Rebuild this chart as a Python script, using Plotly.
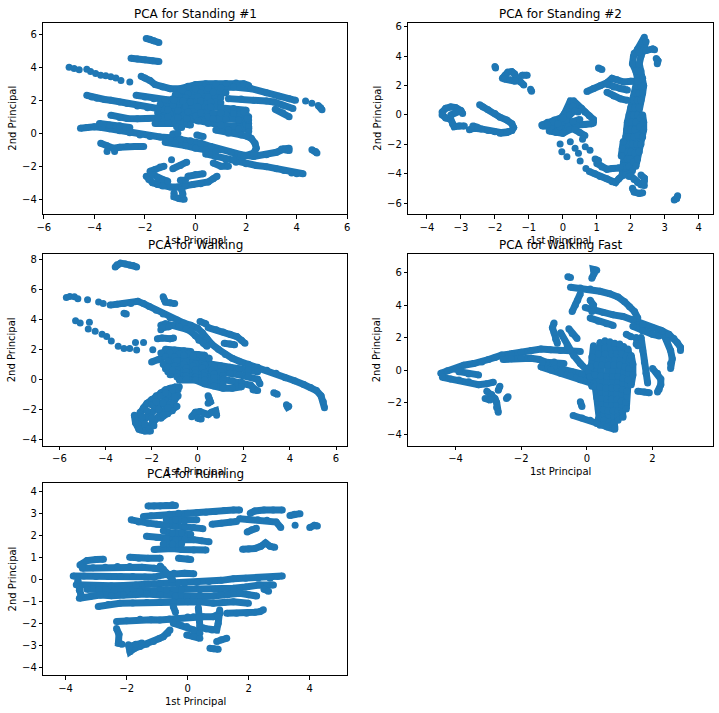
import plotly.graph_objects as go

# PCA scatter of 5 activities; each trail below is a run of consecutive samples
# (1st principal, 2nd principal). Single-point trails are isolated samples.

standing_1 = [
    [(-1.95, 5.75), (-1.8, 5.7), (-1.65, 5.6), (-1.45, 5.5)],
    [(-2.55, 4.55), (-2.3, 4.5), (-2.0, 4.45), (-1.7, 4.4), (-1.45, 4.35)],
    [(-5.0, 4.0)], [(-4.8, 3.92)], [(-4.6, 3.85)], [(-4.3, 3.88)], [(-4.15, 3.75)],
    [(-3.95, 3.62)], [(-3.75, 3.52)], [(-3.55, 3.48)], [(-3.35, 3.42)], [(-3.15, 3.35)],
    [(-2.95, 3.2)], [(-2.6, 3.1)],
    [(-2.15, 3.45), (-2.0, 3.35), (-1.8, 3.2), (-1.6, 2.95), (-1.3, 2.8), (-1.0, 2.7), (-0.6, 2.7),
     (-0.3, 2.85), (0.0, 2.95), (0.4, 3.0), (0.8, 3.0), (1.2, 3.02), (1.6, 3.05), (1.9, 3.0), (2.1, 2.9)],
    [(-0.5, 2.6), (0.0, 2.7), (0.5, 2.75), (1.0, 2.75), (1.5, 2.8), (2.2, 2.7), (2.8, 2.45), (3.3, 2.25),
     (3.7, 2.1), (3.95, 2.0)],
    [(-0.8, 2.35), (-0.3, 2.4), (0.2, 2.45), (0.7, 2.5), (1.2, 2.45)],
    [(-0.9, 2.1), (-0.4, 2.15), (0.1, 2.2), (0.5, 2.2), (1.0, 2.15)],
    [(-0.3, 1.9), (0.2, 1.95), (0.6, 1.9), (1.0, 1.85)],
    [(-1.4, 1.75), (-0.9, 1.7), (-0.4, 1.65), (0.1, 1.6), (0.5, 1.55)],
    [(-1.5, 1.25), (-1.0, 1.2), (-0.5, 1.1), (0.0, 1.05), (0.5, 1.0)],
    [(-1.6, 0.6), (-1.1, 0.65), (-0.6, 0.6), (-0.2, 0.5)],
    [(1.3, 2.1), (1.8, 2.08), (2.3, 2.0), (2.8, 1.95), (3.1, 1.9), (3.45, 1.7), (3.85, 1.5)],
    [(3.15, 1.45), (3.45, 1.25), (3.7, 1.0)],
    [(4.35, 1.95)], [(4.6, 1.82)], [(4.85, 1.68), (4.95, 1.55), (5.0, 1.42)],
    [(-4.3, 2.3), (-4.1, 2.2), (-3.9, 2.12), (-3.6, 2.05), (-3.35, 2.0), (-3.0, 1.9), (-2.7, 1.8),
     (-2.3, 1.65), (-1.9, 1.55), (-1.5, 1.5), (-1.1, 1.42), (-0.7, 1.38), (-0.3, 1.3), (0.2, 1.25),
     (0.7, 1.2), (1.2, 1.15), (1.7, 1.1), (2.1, 1.0)],
    [(-2.35, 2.3), (-2.0, 2.2), (-1.65, 2.1), (-1.2, 2.05), (-0.85, 2.0), (-0.5, 1.95), (-0.2, 1.9)],
    [(-3.35, 1.1), (-3.0, 0.95), (-2.7, 0.9), (-2.3, 0.88), (-1.9, 0.9), (-1.5, 0.95), (-1.1, 1.0),
     (-0.7, 0.95), (-0.35, 0.9), (0.1, 0.75), (0.5, 0.6), (1.0, 0.5), (1.5, 0.42), (2.0, 0.55), (2.1, 0.6)],
    [(0.6, 1.6), (1.0, 1.55), (1.5, 1.5), (2.0, 1.4)],
    [(1.0, 1.25), (1.5, 1.2), (2.0, 1.15)],
    [(0.7, 0.9), (1.2, 0.85), (1.7, 0.8), (2.1, 0.8)],
    [(1.3, 0.2), (1.7, 0.25), (2.1, 0.3)],
    [(0.8, 0.2), (1.3, 0.0), (1.8, -0.1), (2.1, -0.2)],
    [(1.9, 1.3), (2.05, 0.9), (2.1, 0.4), (2.1, 0.1)],
    [(-4.55, 0.3), (-4.3, 0.35), (-4.0, 0.4), (-3.7, 0.35), (-3.4, 0.28), (-3.0, 0.15), (-2.6, 0.03),
     (-2.2, -0.1), (-1.8, -0.2), (-1.4, -0.22), (-1.0, -0.27), (-0.6, -0.35), (-0.2, -0.45), (0.2, -0.6),
     (0.6, -0.8), (1.0, -1.0), (1.4, -1.15), (1.8, -1.3), (2.3, -1.4), (2.8, -1.3), (3.2, -1.15),
     (3.5, -0.95), (3.7, -0.9)],
    [(-3.8, 0.6), (-3.4, 0.5), (-3.0, 0.45), (-2.6, 0.35)],
    [(-3.75, -0.6), (-3.5, -0.75), (-3.25, -0.9), (-3.0, -0.85), (-2.7, -0.8), (-2.4, -0.8), (-2.05, -0.8)],
    [(-3.5, -1.1)], [(-3.2, -1.1)],
    [(-0.75, 0.4), (-0.55, 0.35)], [(-0.9, -0.05), (-0.7, 0.0)], [(0.05, -0.1), (0.3, -0.2)],
    [(-1.2, -0.55), (-0.8, -0.6), (-0.4, -0.75), (0.0, -0.9), (0.4, -1.0), (0.8, -1.1)],
    [(0.4, -1.25), (0.8, -1.4), (1.2, -1.6), (1.6, -1.75), (2.0, -1.85), (2.4, -1.95), (2.8, -2.02),
     (3.2, -2.15), (3.5, -2.25), (3.8, -2.4), (4.0, -2.45), (4.25, -2.45)],
    [(1.5, -1.6), (1.9, -1.4), (2.3, -1.2), (2.4, -0.9), (2.35, -0.6), (2.2, -0.3), (2.0, -0.15)],
    [(3.4, -0.95), (3.55, -1.0), (3.7, -1.05)],
    [(0.7, -1.8), (1.0, -2.0), (1.3, -2.0)],
    [(4.6, -1.0), (4.75, -1.1), (4.8, -1.2)],
    [(-1.95, -2.6), (-1.85, -2.8), (-1.7, -3.0), (-1.5, -3.1), (-1.3, -3.2), (-1.0, -3.25), (-0.7, -3.25),
     (-0.4, -3.2), (-0.1, -3.1), (0.2, -3.05), (0.5, -2.95), (0.7, -2.75), (0.85, -2.6)],
    [(-1.8, -2.3), (-1.6, -2.2), (-1.4, -2.05), (-1.25, -2.0)],
    [(-1.7, -2.5), (-1.5, -2.7), (-1.3, -2.8), (-1.1, -2.9)],
    [(-0.9, -2.15), (-0.6, -1.95), (-0.35, -1.75)],
    [(-0.85, -3.6), (-0.85, -3.85), (-0.65, -3.95), (-0.45, -4.0)],
    [(-0.55, -3.4), (-0.5, -3.7)],
    [(-0.6, -2.85), (-0.4, -2.85)],
    [(-0.95, -1.6)],
    [(-0.3, -2.6), (0.0, -2.5), (0.3, -2.45)],
]

standing_2 = [
    [(-2.0, 3.3), (-1.98, 3.2)],
    [(-1.78, 2.5), (-1.7, 2.7), (-1.62, 2.92), (-1.5, 2.95), (-1.42, 2.8), (-1.35, 2.5), (-1.25, 2.25),
     (-1.15, 2.05)],
    [(-1.72, 2.45), (-1.55, 2.4), (-1.4, 2.3)],
    [(-1.2, 2.7), (-1.05, 2.7)],
    [(-0.95, 1.75), (-0.92, 1.62)],
    [(-2.95, 0.1), (-3.0, 0.3), (-3.15, 0.5), (-3.3, 0.55), (-3.45, 0.45), (-3.55, 0.2), (-3.55, 0.0),
     (-3.45, -0.2), (-3.3, -0.3), (-3.25, -0.6), (-3.2, -0.8), (-3.05, -0.75), (-2.9, -0.75)],
    [(-3.3, 0.0), (-3.15, 0.2), (-3.05, 0.25)],
    [(-2.75, -1.0), (-2.6, -0.9), (-2.4, -0.95), (-2.2, -1.05), (-2.0, -1.15), (-1.8, -1.2), (-1.6, -1.15)],
    [(-2.45, 0.7), (-2.35, 0.55), (-2.2, 0.35), (-2.0, 0.1), (-1.85, -0.15), (-1.65, -0.35), (-1.5, -0.6),
     (-1.45, -0.85), (-1.5, -1.05), (-1.65, -1.2), (-1.85, -1.25)],
    [(-2.65, -0.75), (-2.5, -0.85)],
    [(-0.62, -0.68), (-0.45, -0.5), (-0.25, -0.35), (-0.05, -0.2), (0.05, 0.1), (0.15, 0.5), (0.22, 0.95),
     (0.32, 0.95), (0.42, 0.7), (0.55, 0.45), (0.65, 0.2), (0.78, -0.05), (0.9, -0.3), (0.9, -0.55)],
    [(-0.6, -0.75), (-0.35, -0.8), (-0.1, -0.8), (0.15, -0.75), (0.4, -0.7), (0.65, -0.65), (0.85, -0.6)],
    [(-0.4, -1.1), (-0.2, -1.2), (0.0, -1.25), (0.2, -1.0)],
    [(-0.3, -0.5), (0.0, -0.5), (0.3, -0.45), (0.5, -0.3)],
    [(-0.45, -0.65), (-0.15, -0.6), (0.1, -0.35), (0.2, 0.2), (0.3, 0.6)],
    [(0.0, -0.2), (0.2, 0.0), (0.35, 0.3), (0.45, 0.2)],
    [(0.35, -1.0), (0.5, -1.2), (0.65, -1.4)],
    [(-0.08, -1.98)], [(-0.03, -2.5)], [(0.12, -2.84)], [(0.22, -1.82)], [(0.36, -2.27)],
    [(0.46, -2.61)], [(0.51, -3.14)], [(0.66, -2.16)], [(0.58, -1.66)], [(0.68, -3.64)], [(0.8, -2.4)],
    [(0.78, -3.85), (0.95, -4.0), (1.1, -4.2), (1.3, -4.35), (1.45, -4.55), (1.55, -4.6), (1.65, -4.35),
     (1.75, -4.15), (1.85, -3.9), (1.95, -3.7)],
    [(1.0, -3.3), (1.15, -3.55), (1.3, -3.7), (1.45, -3.65), (1.65, -3.6), (1.85, -3.6)],
    [(0.95, -3.0), (1.05, -3.1)],
    [(1.75, -4.05), (1.78, -3.5), (1.82, -3.0), (1.82, -2.5), (1.85, -2.0), (1.85, -1.5), (1.88, -1.0),
     (1.9, -0.5), (1.95, 0.0), (2.0, 0.5), (2.08, 1.0), (2.15, 1.5), (2.2, 2.0), (2.2, 2.5), (2.15, 3.0),
     (2.05, 3.5), (2.08, 4.0), (2.2, 4.5), (2.35, 5.0), (2.4, 5.3)],
    [(1.85, -4.1), (1.88, -3.5), (1.9, -3.0), (1.92, -2.5), (1.95, -2.0), (1.98, -1.5), (2.0, -1.0),
     (2.03, -0.5), (2.08, 0.0), (2.12, 0.5), (2.2, 1.0), (2.25, 1.5), (2.3, 2.0)],
    [(1.95, -4.2), (1.95, -3.5), (1.98, -3.0), (2.0, -2.5), (2.05, -2.0), (2.1, -1.5), (2.12, -1.0),
     (2.15, -0.5), (2.2, 0.0), (2.25, 0.5), (2.3, 1.0), (2.35, 1.5), (2.38, 2.0), (2.35, 2.5), (2.3, 3.0),
     (2.25, 3.5), (2.3, 4.0), (2.4, 4.5), (2.45, 5.0)],
    [(2.05, -3.8), (2.08, -3.2), (2.12, -2.6), (2.18, -2.0), (2.22, -1.4), (2.26, -0.8), (2.28, -0.2)],
    [(2.15, -3.5), (2.2, -3.0), (2.25, -2.5), (2.3, -2.0), (2.35, -1.5), (2.38, -1.0), (2.38, -0.5),
     (2.35, 0.0)],
    [(1.72, -2.8), (1.75, -2.3), (1.78, -1.8)],
    [(2.1, 4.2), (2.25, 4.3), (2.45, 4.4), (2.65, 4.5), (2.7, 4.45)],
    [(2.75, 3.85), (2.8, 3.7), (2.78, 3.5)],
    [(0.71, 1.6), (0.9, 1.8), (1.1, 2.0), (1.3, 2.2), (1.45, 2.5), (1.6, 2.4), (1.8, 2.25), (2.0, 2.3),
     (2.2, 2.3)],
    [(1.3, 1.55), (1.5, 1.3), (1.7, 1.1), (1.9, 1.0)],
    [(1.05, 3.2), (1.15, 3.1)],
    [(1.3, 2.1), (1.5, 1.9), (1.7, 1.8), (1.9, 1.7)],
    [(2.0, -4.15), (2.1, -4.4), (2.2, -4.6), (2.3, -4.75), (2.4, -4.8)],
    [(2.3, -4.1), (2.4, -4.3), (2.4, -4.55)],
    [(2.05, -5.0), (2.1, -5.25), (2.25, -5.35), (2.35, -5.3)],
    [(3.28, -5.8), (3.35, -5.7), (3.38, -5.5)],
]

walking = [
    [(-3.58, 7.5), (-3.5, 7.65), (-3.35, 7.75), (-3.15, 7.7), (-2.95, 7.62), (-2.8, 7.6), (-2.65, 7.5)],
    [(-5.7, 5.45)], [(-5.55, 5.52)], [(-5.35, 5.5)], [(-5.2, 5.38)], [(-4.78, 5.3)], [(-4.3, 5.15)],
    [(-4.1, 5.05)],
    [(-3.8, 4.95), (-3.5, 5.0), (-3.2, 5.05), (-2.9, 5.05), (-2.6, 5.2), (-2.35, 5.05), (-2.1, 4.85),
     (-1.8, 4.6), (-1.5, 4.35), (-1.2, 4.1), (-0.9, 3.95), (-0.6, 3.75), (-0.3, 3.6), (0.0, 3.4), (0.2, 3.1),
     (0.4, 2.7), (0.6, 2.35), (0.9, 2.0), (1.2, 1.65), (1.5, 1.4), (1.8, 1.2), (2.2, 1.0), (2.6, 0.8),
     (3.0, 0.6), (3.4, 0.4), (3.8, 0.1), (4.2, -0.1), (4.6, -0.35), (4.9, -0.55), (5.15, -0.75),
     (5.35, -1.1), (5.45, -1.5), (5.5, -1.9)],
    [(-3.2, 4.4), (-3.1, 4.35)],
    [(-1.5, 5.5), (-1.45, 5.3), (-1.4, 5.15), (-1.2, 5.1), (-1.0, 5.05)],
    [(-1.6, 3.6), (-1.4, 3.7), (-1.1, 3.6), (-0.8, 3.5), (-0.5, 3.35), (-0.3, 3.2), (-0.1, 2.9), (0.05, 2.6),
     (0.25, 2.4), (0.4, 2.2)],
    [(-1.6, 3.3), (-1.5, 3.45), (-1.25, 3.5)],
    [(-1.75, 2.7), (-1.55, 2.75), (-1.2, 2.7), (-1.05, 2.75)],
    [(0.45, 3.45), (0.8, 3.3), (1.1, 3.15), (1.4, 3.0), (1.7, 2.85), (1.9, 2.6), (2.05, 2.4)],
    [(1.15, 2.4), (1.4, 2.35), (1.6, 2.3)],
    [(0.1, 3.85), (0.35, 3.7)],
    [(-5.3, 3.9)], [(-5.1, 3.75)], [(-4.7, 3.8)], [(-4.75, 3.35)], [(-4.45, 3.2)], [(-4.15, 3.0)],
    [(-3.95, 2.85)], [(-3.75, 2.55)], [(-3.45, 2.2)], [(-3.2, 2.05)], [(-2.95, 2.05)], [(-2.7, 2.45)],
    [(-2.65, 1.95)], [(-2.35, 2.45)], [(-1.95, 1.98)],
    [(-1.4, 2.0), (-1.0, 1.95), (-0.6, 1.9), (-0.3, 1.85)],
    [(-1.6, 1.75), (-1.2, 1.75), (-0.8, 1.7), (-0.4, 1.7), (0.0, 1.65), (0.3, 1.6)],
    [(-2.0, 1.15), (-1.7, 1.3), (-1.4, 1.5), (-1.0, 1.5), (-0.6, 1.35), (-0.2, 1.2), (0.2, 1.15),
     (0.6, 1.0), (1.0, 0.9), (1.4, 0.8), (1.8, 0.7), (2.2, 0.6), (2.6, 0.5)],
    [(-1.3, 1.2), (-0.9, 1.25), (-0.5, 1.2), (-0.1, 1.05), (0.3, 0.95), (0.7, 0.8), (1.1, 0.7)],
    [(-1.4, 0.7), (-1.0, 0.9), (-0.6, 1.0), (-0.2, 0.9), (0.2, 0.75), (0.6, 0.6), (1.0, 0.5), (1.4, 0.4),
     (1.8, 0.3), (2.2, 0.2), (2.6, 0.0), (2.7, -0.3)],
    [(-1.3, 0.5), (-0.9, 0.65), (-0.5, 0.75), (-0.1, 0.65), (0.3, 0.45), (0.7, 0.35), (1.1, 0.25)],
    [(-1.2, 0.3), (-0.9, 0.4), (-0.5, 0.5), (-0.1, 0.4), (0.3, 0.2), (0.7, 0.1), (1.1, 0.0), (1.5, -0.1),
     (1.9, -0.2), (2.3, -0.4), (2.5, -0.7)],
    [(-0.9, 0.15), (-0.5, 0.25), (-0.1, 0.15), (0.3, -0.05), (0.7, -0.2), (1.1, -0.3)],
    [(-0.8, -0.05), (-0.5, 0.0), (-0.1, -0.05), (0.3, -0.3), (0.7, -0.45), (1.1, -0.6), (1.5, -0.6),
     (1.9, -0.5)],
    [(-0.6, 1.6), (-0.2, 1.55), (0.2, 1.5), (0.5, 1.4)],
    [(-1.5, 1.0), (-1.3, 0.8), (-1.1, 0.6)],
    [(3.3, -0.9), (3.45, -1.0)],
    [(3.85, -1.7), (3.9, -1.85), (3.95, -1.8)],
    [(2.4, -0.7), (2.6, -0.75)],
    [(-2.6, -2.5), (-2.5, -2.2), (-2.35, -1.9), (-2.2, -1.6), (-2.0, -1.35), (-1.8, -1.1), (-1.6, -0.9),
     (-1.4, -0.7), (-1.2, -0.6), (-0.95, -0.5)],
    [(-2.6, -3.1), (-2.4, -2.8), (-2.2, -2.5), (-2.0, -2.2), (-1.8, -1.9), (-1.6, -1.6), (-1.4, -1.3),
     (-1.2, -1.1), (-1.0, -0.9), (-0.85, -0.7)],
    [(-2.45, -3.4), (-2.2, -3.35), (-2.0, -3.0), (-1.8, -2.6), (-1.6, -2.3), (-1.4, -2.0), (-1.2, -1.7),
     (-1.0, -1.4), (-0.85, -1.1)],
    [(-2.7, -2.7), (-2.6, -3.0), (-2.5, -3.3), (-2.3, -3.45), (-2.05, -3.45)],
    [(-1.6, -2.6), (-1.3, -2.3), (-1.1, -2.1), (-0.9, -1.8)],
    [(-2.75, -2.4), (-2.7, -2.9), (-2.55, -3.35)],
    [(-2.4, -2.5), (-2.3, -3.0), (-2.1, -3.3)],
    [(-2.2, -2.1), (-2.0, -2.6), (-1.9, -3.1)],
    [(-2.0, -1.7), (-1.7, -2.0), (-1.5, -2.4)],
    [(-1.8, -1.5), (-1.5, -1.6), (-1.3, -1.9)],
    [(-1.6, -1.1), (-1.3, -1.0), (-1.0, -1.2)],
    [(-1.4, -0.9), (-1.1, -0.7), (-0.8, -0.5)],
    [(-0.26, -2.5), (-0.1, -2.2), (0.1, -2.15), (0.3, -2.3), (0.45, -2.35), (0.6, -2.2), (0.78, -2.1),
     (0.82, -2.4)],
    [(0.0, -2.6), (0.15, -2.65)],
    [(0.45, -1.1), (0.5, -1.3), (0.55, -1.5), (0.45, -1.6)],
]

walking_fast = [
    [(0.15, 5.65), (0.22, 5.95), (0.2, 6.2), (0.3, 6.15)],
    [(-0.58, 5.75), (-0.5, 5.7)],
    [(-0.5, 5.1), (-0.2, 5.05), (0.1, 5.0), (0.4, 4.85), (0.7, 4.7), (0.95, 4.5), (1.15, 4.2), (1.3, 3.9),
     (1.45, 3.6), (1.55, 3.2)],
    [(-0.2, 4.7), (-0.28, 4.3), (-0.35, 4.0), (-0.45, 3.6)],
    [(-0.05, 3.85), (0.2, 3.7), (0.5, 3.55), (0.8, 3.4), (1.1, 3.3), (1.4, 3.1), (1.7, 2.8), (2.0, 2.6),
     (2.25, 2.45), (2.5, 2.2), (2.65, 1.95), (2.75, 1.7), (2.85, 1.4), (2.85, 1.2)],
    [(0.1, 3.2), (0.35, 3.0), (0.6, 2.85), (0.8, 2.75)],
    [(0.1, 4.3), (0.2, 4.0), (0.15, 3.6)],
    [(1.4, 2.7), (1.7, 2.4), (2.0, 2.2), (2.2, 2.1)],
    [(1.5, 2.0), (1.5, 1.6), (1.55, 1.5)],
    [(-1.0, 2.9), (-1.05, 2.6), (-1.0, 2.3), (-0.95, 1.9), (-0.9, 1.65)],
    [(-0.55, 2.55), (-0.45, 2.25), (-0.3, 1.95)],
    [(-4.45, -0.2), (-4.25, -0.05), (-4.0, 0.05), (-3.75, 0.3), (-3.45, 0.4), (-3.2, 0.5), (-3.0, 0.65),
     (-2.8, 0.78), (-2.6, 0.92), (-2.3, 1.0), (-2.0, 1.1), (-1.7, 1.2), (-1.4, 1.3), (-1.1, 1.25),
     (-0.8, 1.2), (-0.5, 1.2), (-0.2, 1.15)],
    [(-2.55, 0.65), (-2.3, 0.7), (-2.0, 0.72), (-1.7, 0.72), (-1.45, 0.65), (-1.25, 0.45), (-1.0, 0.2),
     (-0.75, 0.05), (-0.45, -0.1), (-0.15, -0.25), (0.2, -0.4)],
    [(-4.4, -0.45), (-4.15, -0.55), (-3.9, -0.62), (-3.6, -0.72), (-3.3, -0.9), (-3.05, -0.85),
     (-2.85, -0.75)],
    [(-3.9, -0.1), (-3.6, -0.25), (-3.3, -0.3)],
    [(-2.65, -1.0), (-2.7, -1.25)],
    [(-3.05, -1.3), (-2.9, -1.5), (-2.8, -1.75), (-2.75, -2.0), (-2.75, -2.3), (-2.7, -2.6)],
    [(-3.1, -1.75), (-2.95, -1.85)],
    [(-2.4, -1.65), (-2.45, -1.75)],
    [(-1.4, 0.2), (-1.1, 0.0), (-0.8, -0.2), (-0.5, -0.35), (-0.2, -0.6), (0.2, -0.85)],
    [(-1.35, 0.5), (-1.0, 0.5), (-0.7, 0.4)],
    [(-0.8, 2.3), (-0.6, 1.5), (-0.4, 0.9), (-0.2, 0.4), (0.05, -0.1)],
    [(0.2, 1.5), (0.15, 0.8), (0.1, 0.2), (0.1, -0.4), (0.15, -1.0)],
    [(0.4, 1.7), (0.35, 1.0), (0.3, 0.3), (0.25, -0.3), (0.25, -1.0), (0.3, -1.7), (0.35, -2.4),
     (0.35, -3.0), (0.4, -3.4)],
    [(0.55, 1.8), (0.55, 1.0), (0.45, 0.3), (0.42, -0.35), (0.4, -1.05), (0.45, -1.75), (0.5, -2.45),
     (0.52, -3.1), (0.55, -3.45)],
    [(0.7, 1.75), (0.75, 1.0), (0.65, 0.3), (0.6, -0.4), (0.58, -1.1), (0.6, -1.8), (0.65, -2.5),
     (0.68, -3.2), (0.7, -3.45)],
    [(0.85, 1.65), (0.9, 1.0), (0.82, 0.3), (0.78, -0.4), (0.75, -1.1), (0.75, -1.8), (0.8, -2.5),
     (0.82, -3.25), (0.85, -3.55)],
    [(1.0, 1.6), (1.05, 1.0), (1.0, 0.3), (0.95, -0.4), (0.92, -1.1), (0.92, -1.8), (0.95, -2.5),
     (0.95, -3.1)],
    [(1.12, 1.45), (1.2, 0.85), (1.15, 0.2), (1.1, -0.5), (1.08, -1.2), (1.05, -1.9), (1.08, -2.55),
     (1.1, -2.9)],
    [(1.25, 1.3), (1.3, 0.7), (1.28, 0.1), (1.25, -0.6), (1.22, -1.3), (1.18, -2.0), (1.2, -2.4)],
    [(1.35, 0.9), (1.4, 0.35), (1.4, -0.3), (1.35, -0.9)],
    [(1.65, 2.0), (1.7, 1.2), (1.75, 0.5), (1.8, -0.2), (1.85, -0.8)],
    [(-0.42, -2.8), (-0.15, -2.95), (0.1, -3.1), (0.3, -3.3), (0.5, -3.4)],
    [(-0.2, -1.95), (-0.15, -2.25)],
    [(0.6, -3.5), (0.85, -3.65)],
    [(2.0, 0.1), (2.15, -0.2), (2.25, -0.55), (2.25, -0.9), (2.2, -1.2), (2.15, -1.35)],
    [(2.3, 2.4), (2.45, 1.8), (2.55, 1.2), (2.6, 0.7), (2.55, 0.4), (2.55, 0.1)],
    [(1.55, -1.3), (1.75, -1.35), (1.9, -1.4)],
    [(1.2, 2.2), (1.35, 2.05)],
]

running = [
    [(-1.3, 3.33), (-1.1, 3.33), (-0.9, 3.33), (-0.7, 3.35), (-0.5, 3.38), (-0.4, 3.35)],
    [(-1.45, 2.85), (-1.2, 2.88), (-0.9, 2.9), (-0.6, 2.95), (-0.3, 3.0), (0.0, 3.0), (0.3, 3.02),
     (0.6, 3.05), (0.9, 3.08), (1.2, 3.12), (1.5, 3.15), (1.7, 3.15)],
    [(2.05, 3.0), (2.2, 3.1), (2.5, 3.15), (2.8, 3.15), (3.1, 3.15)],
    [(1.7, 2.75), (2.0, 2.72), (2.3, 2.7), (2.6, 2.68), (2.9, 2.6), (3.05, 2.35)],
    [(3.35, 2.9), (3.5, 2.95), (3.68, 2.98)],
    [(3.52, 2.45)],
    [(4.0, 2.35), (4.15, 2.45), (4.25, 2.42)],
    [(0.8, 2.5), (1.1, 2.55), (1.4, 2.6), (1.6, 2.62)],
    [(1.95, 2.15), (2.1, 2.25), (2.25, 2.32)],
    [(1.8, 1.36), (2.0, 1.38), (2.2, 1.4), (2.4, 1.5), (2.55, 1.65), (2.7, 1.5), (2.85, 1.45)],
    [(-1.85, 2.7), (-1.6, 2.6), (-1.3, 2.55), (-1.0, 2.5), (-0.7, 2.45), (-0.4, 2.4), (-0.1, 2.38),
     (0.2, 2.35), (0.5, 2.3)],
    [(-1.35, 1.95), (-1.0, 1.9), (-0.7, 1.85), (-0.4, 1.8), (-0.1, 1.8), (0.2, 1.8), (0.45, 1.75),
     (0.7, 1.7)],
    [(-1.1, 1.35), (-0.8, 1.4), (-0.5, 1.4), (-0.2, 1.35), (0.2, 1.33), (0.6, 1.33)],
    [(-0.3, 0.95), (0.0, 0.92), (0.1, 0.9)],
    [(-0.8, 2.2), (-0.5, 2.1), (-0.2, 2.1), (0.1, 2.05)],
    [(-0.8, 1.6), (-0.5, 1.6), (-0.2, 1.6)],
    [(-0.7, 2.7), (-0.4, 2.7), (-0.1, 2.65), (0.3, 2.7)],
    [(-3.53, 0.65), (-3.3, 0.85), (-3.0, 0.9), (-2.76, 0.91)],
    [(-1.9, 1.0), (-1.6, 0.95), (-1.3, 0.95), (-0.9, 0.95)],
    [(-3.45, 0.5), (-3.1, 0.52), (-2.7, 0.55), (-2.3, 0.58), (-1.9, 0.58), (-1.5, 0.55), (-1.1, 0.5),
     (-0.8, 0.45)],
    [(-3.75, 0.15), (-3.4, 0.15), (-3.0, 0.12), (-2.6, 0.12), (-2.2, 0.12), (-1.8, 0.12), (-1.4, 0.1),
     (-1.1, 0.1), (-0.8, 0.2), (-0.45, 0.27), (-0.1, 0.27), (0.2, 0.25)],
    [(-3.65, -0.25), (-3.3, -0.28), (-2.9, -0.3), (-2.5, -0.3), (-2.1, -0.28), (-1.7, -0.26), (-1.3, -0.22),
     (-0.9, -0.18), (-0.5, -0.18), (-0.1, -0.18), (0.3, -0.15), (0.7, -0.1), (1.1, -0.05), (1.5, 0.02),
     (1.9, 0.05), (2.3, 0.05), (2.7, 0.05), (2.95, 0.12), (3.1, 0.15)],
    [(-3.3, -0.45), (-2.9, -0.47), (-2.4, -0.5), (-2.0, -0.52), (-1.56, -0.56), (-1.1, -0.52),
     (-0.69, -0.48), (-0.2, -0.48), (0.4, -0.48), (0.9, -0.45), (1.5, -0.41), (1.9, -0.35), (2.37, -0.26),
     (2.81, -0.26)],
    [(-3.55, -0.86), (-3.2, -0.78), (-2.87, -0.72), (-2.5, -0.75), (-2.1, -0.72), (-1.7, -0.7),
     (-1.34, -0.67), (-0.9, -0.72), (-0.4, -0.76), (-0.03, -0.79), (0.4, -0.78), (0.84, -0.76),
     (1.3, -0.7), (1.71, -0.64), (2.0, -0.7), (2.26, -0.76)],
    [(-2.93, -1.24), (-2.6, -1.15), (-2.22, -1.09), (-1.8, -1.08), (-1.34, -1.06), (-0.9, -1.04),
     (-0.47, -1.02), (0.0, -1.02), (0.4, -1.02), (0.84, -1.09), (1.2, -1.05), (1.5, -1.02), (1.99, -1.09)],
    [(-3.6, -0.05), (-3.55, -0.5), (-3.5, -0.7)],
    [(2.5, -0.45), (2.65, -0.55)],
    [(-0.9, 0.6), (-0.7, 0.3), (-0.5, 0.0)],
    [(-2.33, -1.92), (-2.0, -1.88), (-1.56, -1.82), (-1.2, -1.84), (-0.91, -1.85), (-0.6, -1.8),
     (-0.36, -1.77), (0.0, -1.72), (0.19, -1.7), (0.5, -1.7), (0.84, -1.7), (1.06, -1.55)],
    [(1.28, -1.55), (1.6, -1.55), (1.93, -1.55), (2.2, -1.5), (2.37, -1.47), (2.48, -1.39)],
    [(0.35, -1.3), (0.38, -1.7), (0.4, -2.15), (0.6, -2.25), (0.8, -2.3), (0.95, -2.3), (1.0, -2.0),
     (1.0, -1.7), (1.05, -1.4)],
    [(-0.47, -2.0), (-0.2, -2.1), (-0.03, -2.15), (0.2, -2.3), (0.4, -2.45)],
    [(-0.03, -2.53), (0.2, -2.6), (0.4, -2.68)],
    [(0.95, -2.83), (1.1, -2.75), (1.28, -2.68)],
    [(0.73, -3.14), (0.85, -3.16), (1.0, -3.18)],
    [(-0.47, -1.24), (-0.4, -1.5)],
    [(-2.33, -2.24), (-2.25, -2.5), (-2.27, -2.91), (-2.15, -2.95)],
    [(-1.94, -2.98), (-1.89, -3.29), (-1.75, -3.15), (-1.56, -3.06), (-1.35, -2.95), (-1.12, -2.83),
     (-0.95, -2.7), (-0.8, -2.61), (-0.65, -2.45), (-0.58, -2.3)],
    [(-1.9, -3.05), (-1.7, -2.95), (-1.5, -2.9)],
]

titles = ["PCA for Standing #1", "PCA for Standing #2", "PCA for Walking",
          "PCA for Walking Fast", "PCA for Running"]
panels = [standing_1, standing_2, walking, walking_fast, running]

x_ranges = [[-6.02, 6.0], [-4.55, 4.43], [-6.70, 6.49], [-5.44, 3.85], [-4.73, 5.23]]
y_ranges = [[-4.89, 6.7], [-6.75, 6.29], [-4.43, 8.34], [-4.66, 7.13], [-4.35, 4.36]]
x_dticks = [2, 1, 2, 2, 2]
y_dticks = [2, 2, 2, 2, 1]

W, H = 719, 713
BLUE = "#1f77b4"
# axes boxes in pixels: (left, right, top, bottom)
boxes = [(43.3, 347.3, 22.7, 214.0), (408.3, 713.3, 22.7, 214.0),
         (43.3, 347.3, 254.3, 445.7), (408.3, 713.3, 254.3, 445.7),
         (43.3, 347.3, 483.3, 675.0)]

fig = go.Figure()
annotations = []
layout = dict(width=W, height=H, margin=dict(l=0, r=0, t=0, b=0, autoexpand=False),
              template="none", paper_bgcolor="white", plot_bgcolor="white", showlegend=False,
              font=dict(family="DejaVu Sans", size=10, color="black"))

for i, trails in enumerate(panels):
    n = "" if i == 0 else str(i + 1)
    xs, ys = [], []
    for trail in trails:
        for px, py in trail:
            xs.append(px)
            ys.append(py)
        xs.append(None)
        ys.append(None)
    fig.add_trace(go.Scatter(x=xs, y=ys, mode="lines+markers", xaxis="x" + n, yaxis="y" + n,
                             line=dict(color=BLUE, width=7), connectgaps=False,
                             marker=dict(color=BLUE, size=7, line=dict(width=0)),
                             hoverinfo="skip"))
    l, r, t, b = boxes[i]
    axis_common = dict(showline=True, mirror=True, linecolor="black", linewidth=1,
                       ticks="outside", ticklen=3.5, tickwidth=1, tickcolor="black",
                       showgrid=False, zeroline=False, automargin=False,
                       tickfont=dict(size=10, color="black"))
    layout["xaxis" + n] = dict(axis_common, domain=[l / W, r / W], range=x_ranges[i],
                               dtick=x_dticks[i], tick0=0, anchor="y" + n)
    layout["yaxis" + n] = dict(axis_common, domain=[1 - b / H, 1 - t / H], range=y_ranges[i],
                               dtick=y_dticks[i], tick0=0, anchor="x" + n)
    cx = (l + r) / 2 / W
    annotations.append(dict(text=titles[i], x=cx, y=1 - (t - 9) / H, xref="paper", yref="paper",
                            showarrow=False, font=dict(size=12), xanchor="center", yanchor="middle"))
    annotations.append(dict(text="1st Principal", x=cx, y=1 - (b + 26) / H, xref="paper",
                            yref="paper", showarrow=False, font=dict(size=10),
                            xanchor="center", yanchor="middle"))
    annotations.append(dict(text="2nd Principal", x=(l - 31) / W, y=1 - (t + b) / 2 / H,
                            xref="paper", yref="paper", showarrow=False, font=dict(size=10),
                            textangle=-90, xanchor="center", yanchor="middle"))

layout["annotations"] = annotations
fig.update_layout(**layout)
# drop the browser's default 8px body margin so the figure sits at the page corner
fig.write_html("out.html", config={"displayModeBar": False},
               post_script="document.body.style.margin='0';")
